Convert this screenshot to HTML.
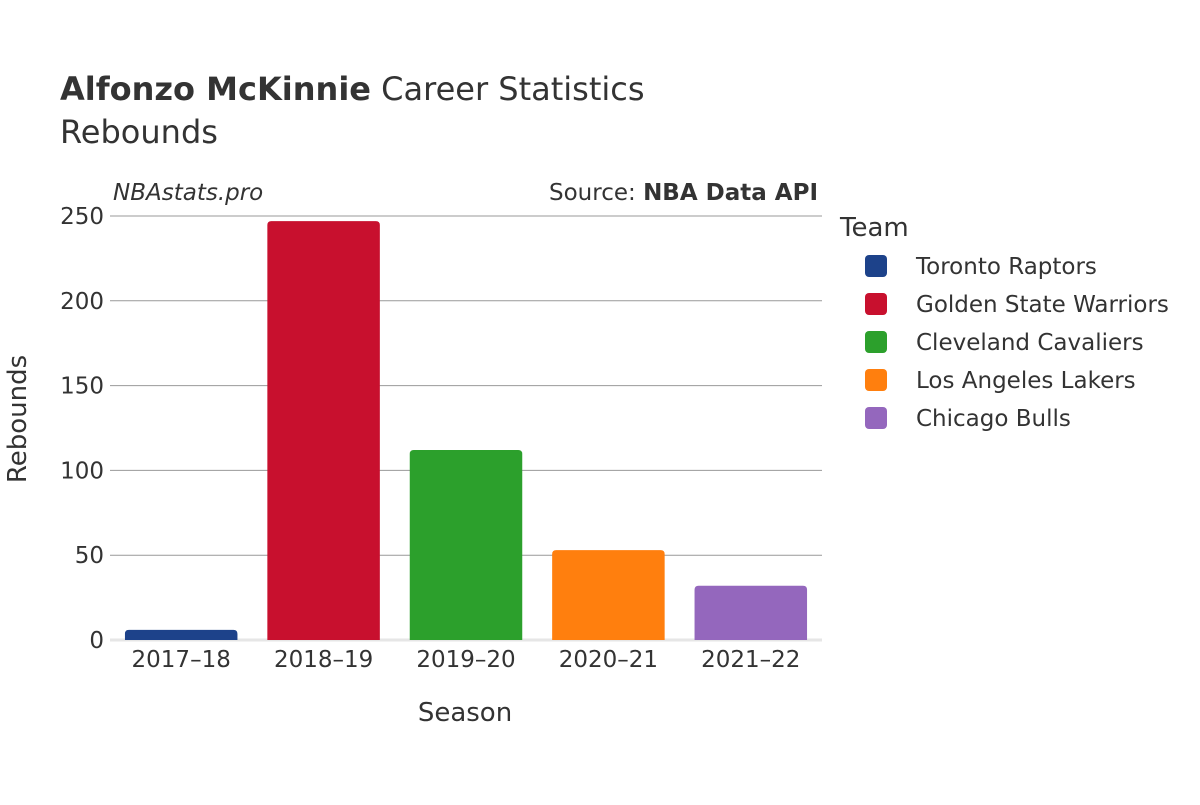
<!DOCTYPE html>
<html><head><meta charset="utf-8"><style>
body{margin:0;background:#fff;font-family:"Liberation Sans","DejaVu Sans",sans-serif;}
svg text{fill:#333;}
</style></head><body>
<svg id="chart" width="1200" height="800" xmlns="http://www.w3.org/2000/svg" font-family="DejaVu Sans, Liberation Sans, sans-serif">
<rect width="1200" height="800" fill="#fff"/>
<text x="60" y="100" font-size="32"><tspan font-weight="bold">Alfonzo McKinnie</tspan> Career Statistics</text>
<text x="60" y="143" font-size="32">Rebounds</text>
<text x="113" y="200" font-size="23" font-style="italic">NBAstats.pro</text>
<text x="818" y="200" font-size="23" text-anchor="end">Source: <tspan font-weight="bold">NBA Data API</tspan></text>
<g id="grid"></g>
<g id="bars"></g>
<g id="xticks"></g>
<text x="465" y="721" font-size="26" text-anchor="middle">Season</text>
<text transform="translate(26,419) rotate(-90)" font-size="26" text-anchor="middle">Rebounds</text>
<g id="legend">
<text x="840" y="236" font-size="26">Team</text>
</g>
</svg>
<script>
const seasons = ["2017–18","2018–19","2019–20","2020–21","2021–22"];
const teams = ["Toronto Raptors","Golden State Warriors","Cleveland Cavaliers","Los Angeles Lakers","Chicago Bulls"];
const rebounds = [6, 247, 112, 53, 32];
const colors = ["#1d428a","#c8102e","#2ca02c","#ff7f0e","#9467bd"];
const yTicks = [0, 50, 100, 150, 200, 250];
const NS = "http://www.w3.org/2000/svg";
const x0 = 110, x1 = 822, y0 = 640, yTop = 216, yMax = 250;
const y = v => y0 - (v / yMax) * (y0 - yTop);
const band = (x1 - x0) / seasons.length;
const bw = band * 0.79;
function mk(tag, attrs, parent){const e=document.createElementNS(NS,tag);for(const k in attrs)e.setAttribute(k,attrs[k]);parent.appendChild(e);return e;}
const grid = document.getElementById('grid');
yTicks.forEach(t=>{
  const l = mk('line',{x1:x0,x2:x1,y1:y(t),y2:y(t),stroke:t===0?'#e6e6e6':'#999','stroke-width':t===0?3:1},grid);
  
  
  const tx = mk('text',{x:104,y:y(t)+8,'font-size':23,'text-anchor':'end'},grid);
  tx.textContent = t;
  
  
});
const bars = document.getElementById('bars');
const xt = document.getElementById('xticks');
seasons.forEach((s,i)=>{
  const cx = x0 + band*(i+0.5);
  const top = y(rebounds[i]);
  const r = mk('path',{d:`M${cx-bw/2},${y0} V${top+4} Q${cx-bw/2},${top} ${cx-bw/2+4},${top} H${cx+bw/2-4} Q${cx+bw/2},${top} ${cx+bw/2},${top+4} V${y0} Z`,fill:colors[i]},bars);
  
  
  const t = mk('text',{x:cx,y:667,'font-size':23,'text-anchor':'middle'},xt);
  t.textContent = s;
  
  
});
const lg = document.getElementById('legend');
teams.forEach((tm,i)=>{
  const yy = 266 + i*38;
  const g = mk('g',{},lg);
  
  
  mk('rect',{x:865,y:yy-11,width:22,height:22,rx:4,fill:colors[i]},g);
  const t = mk('text',{x:916,y:yy+8,'font-size':23},g);
  t.textContent = tm;
});
</script>
</body></html>
